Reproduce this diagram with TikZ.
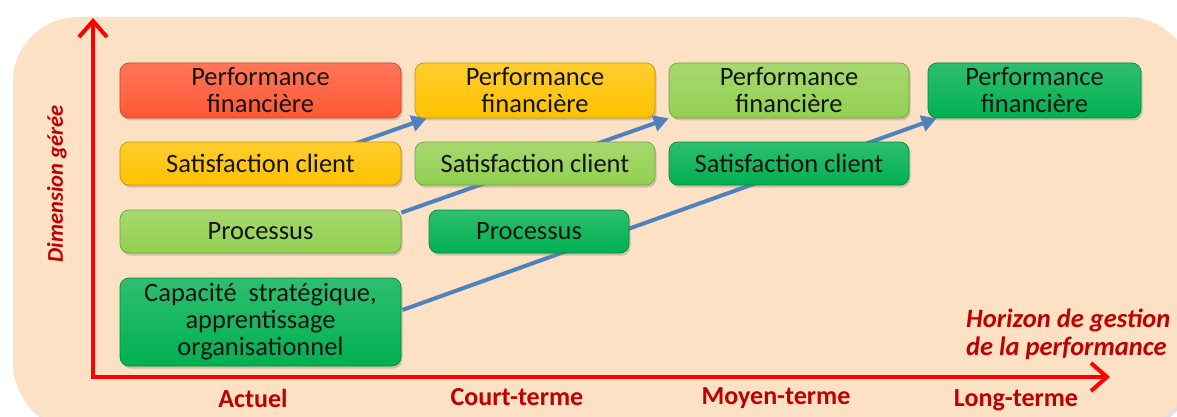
\documentclass[tikz,border=0pt]{standalone}
\usepackage{fontspec}
\setmainfont{Carlito}
\usetikzlibrary{arrows.meta,shadows,calc}
\definecolor{peach}{RGB}{253,225,196}
\definecolor{cRed}{RGB}{255,88,52}
\definecolor{cYel}{RGB}{255,194,0}
\definecolor{cLgr}{RGB}{146,208,80}
\definecolor{cGrn}{RGB}{0,176,80}
\definecolor{axisred}{RGB}{255,0,0}
\definecolor{lblred}{RGB}{192,0,0}
\definecolor{arrblue}{RGB}{79,129,189}
\pgfdeclarelayer{bg}\pgfdeclarelayer{links}
\pgfsetlayers{bg,links,main}
\tikzset{
  box/.style={rounded corners=9pt, top color=#1!82!white, bottom color=#1,
    draw=#1!78!black, line width=0.7pt, inner sep=0pt, align=center,
    drop shadow={opacity=0.35, shadow xshift=1.5pt, shadow yshift=-2.5pt},
    font=\fontsize{26.5}{27}\selectfont, text=black!92},
  lbl/.style={font=\fontsize{26}{27}\selectfont\bfseries, text=lblred, inner sep=0pt},
  lbli/.style={font=\fontsize{26.5}{28}\selectfont\bfseries\itshape, text=lblred, inner sep=0pt},
  axis/.style={draw=axisred, line width=4pt, line join=miter,
    {Straight Barb[length=16pt,width=28pt]}-{Straight Barb[length=16pt,width=28pt]}},
  link/.style={draw=arrblue, line width=4pt, -{Triangle[length=15pt,width=16pt]}}
}
\begin{document}
\begin{tikzpicture}[x=1pt,y=-1pt]
\useasboundingbox (0,0) rectangle (1177,417);
\clip (0,0) rectangle (1177,417);
\begin{pgfonlayer}{bg}
  \fill[black, opacity=0.12, rounded corners=65pt] (15,20) rectangle (1195,431);
  \path[fill=peach, rounded corners=65pt] (13,17) rectangle (1192,428);
\end{pgfonlayer}
% axes
\coordinate (ytop) at (93,18);
\coordinate (orig) at (93,377);
\coordinate (xend) at (1110,377);
\draw[axis] (ytop) -- (orig) -- (xend);
% boxes
\node[box=cRed, minimum width=281pt, minimum height=55pt] (f1) at (260.5,90.5) {Performance\\financière};
\node[box=cYel, minimum width=281pt, minimum height=43pt] (s1) at (260.5,163.5) {Satisfaction client};
\node[box=cLgr, minimum width=281pt, minimum height=43pt] (p1) at (260.5,231.5) {Processus};
\node[box=cGrn, minimum width=281pt, minimum height=88pt] (c1) at (260.5,322) {Capacité\ \ stratégique,\\apprentissage\\organisationnel};
\node[box=cYel, minimum width=240pt, minimum height=55pt] (f2) at (535,90.5) {Performance\\financière};
\node[box=cLgr, minimum width=240pt, minimum height=43pt] (s2) at (535,163.5) {Satisfaction client};
\node[box=cGrn, minimum width=200pt, minimum height=43pt] (p2) at (529,231.5) {Processus};
\node[box=cLgr, minimum width=240pt, minimum height=55pt] (f3) at (789,90.5) {Performance\\financière};
\node[box=cGrn, minimum width=240pt, minimum height=43pt] (s3) at (789,163.5) {Satisfaction client};
\node[box=cGrn, minimum width=213pt, minimum height=55pt] (f4) at (1034.5,90.5) {Performance\\financière};
% links (behind boxes)
\coordinate (a1s) at (300,163);
\coordinate (a1e) at ($(f2.south west)+(12,0)$);
\coordinate (a2s) at ($(p1.north east)+(0,3)$);
\coordinate (a2e) at ($(f3.south west)+(0,0)$);
\coordinate (a3s) at ($(c1.east)+(1,-12)$);
\coordinate (a3e) at ($(f4.south west)+(9,0)$);
\begin{pgfonlayer}{links}
  \draw[link] (a1s) -- (a1e);
  \draw[link] (a2s) -- (a2e);
  \draw[link] (a3s) -- (a3e);
\end{pgfonlayer}
% labels
\node[lbli, rotate=90, font=\fontsize{22.5}{24}\selectfont\bfseries\itshape] (dim) at (57,184) {Dimension gérée};
\node[lbli, align=left, anchor=west] (hor) at (966,334) {Horizon de gestion\\de la performance};
\node[lbl] (act) at (253,398) {Actuel};
\node[lbl] (crt) at (517,397) {Court-terme};
\node[lbl] (moy) at (776,398) {Moyen-terme};
\node[lbl] (lng) at (1016,400) {Long-terme};
\end{tikzpicture}
\end{document}
